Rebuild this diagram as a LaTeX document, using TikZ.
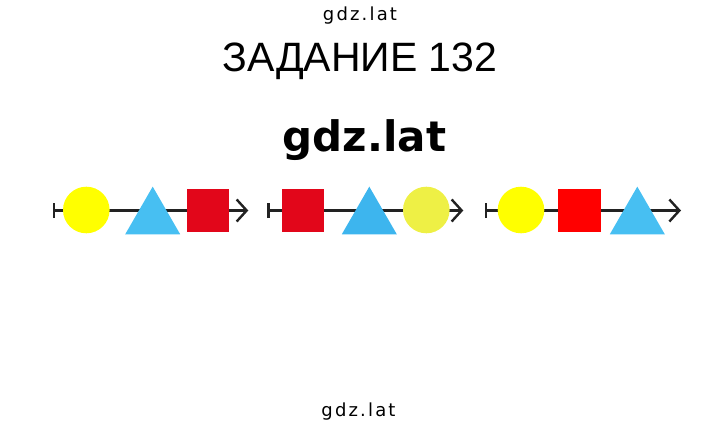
\documentclass[tikz,border=0pt]{standalone}
\usepackage{fontspec}
\setmainfont{DejaVu Sans}
\newfontfamily\titlefont{Liberation Sans}
\newfontfamily\markfont[LetterSpace=12]{DejaVu Sans}
\usetikzlibrary{arrows.meta,shapes.geometric}

\definecolor{sunyellow}{HTML}{FFFF00}
\definecolor{paleyellow}{HTML}{EEF045}
\definecolor{skyblue}{HTML}{47BFF2}
\definecolor{deepsky}{HTML}{3DB5EE}
\definecolor{darkred}{HTML}{E2061A}
\definecolor{brightred}{HTML}{FF0000}
\definecolor{linegray}{HTML}{222222}

\tikzset{
  ring/.style={circle,inner sep=0pt,minimum size=46.6pt},
  tri/.style={regular polygon,regular polygon sides=3,inner sep=0pt,minimum size=63.5pt},
  sq/.style={rectangle,inner sep=0pt,minimum size=42.5pt},
  ray/.style={draw=linegray,line width=2.4pt,{Bar[width=15pt]}-{Straight Barb[length=10pt,width=22pt]}}
}

\begin{document}
\begin{tikzpicture}[x=1pt,y=-1pt]
\useasboundingbox (0,0) rectangle (720,425);

\node[anchor=base] (top) at (360,21) {\markfont\fontsize{18}{20}\selectfont gdz.lat};
\node[anchor=base] (title) at (360,72) {\titlefont\fontsize{41}{46}\selectfont ЗАДАНИЕ 132};
\node[anchor=base] (mark) at (364.5,152) {\bfseries\fontsize{42}{46}\selectfont gdz.lat};
\node[anchor=base] (bottom) at (358.5,416) {\markfont\fontsize{18}{20}\selectfont gdz.lat};

% rays
\coordinate (s1) at (52.7,210.5);
\coordinate (e1) at (248.3,210.5);
\coordinate (s2) at (267.3,210.5);
\coordinate (e2) at (463.3,210.5);
\coordinate (s3) at (485,210.5);
\coordinate (e3) at (681,210.5);
\foreach \from/\to in {s1/e1,s2/e2,s3/e3}
\draw[ray] (\from) -- (\to);

% first ray
\node[ring,fill=sunyellow] (c1) at (86.3,210) {};
\node[tri,fill=skyblue] (t1) at (152.7,218.4) {};
\node[sq,fill=darkred] (q1) at (208,210.5) {};

% second ray
\node[sq,fill=darkred] (q2) at (303,210.5) {};
\node[tri,fill=deepsky] (t2) at (369.3,218.4) {};
\node[ring,fill=paleyellow] (c2) at (426.3,210) {};

% third ray
\node[ring,fill=sunyellow] (c3) at (521,210) {};
\node[sq,fill=brightred] (q3) at (579.7,210.5) {};
\node[tri,fill=skyblue] (t3) at (637.3,218.4) {};
\end{tikzpicture}
\end{document}
